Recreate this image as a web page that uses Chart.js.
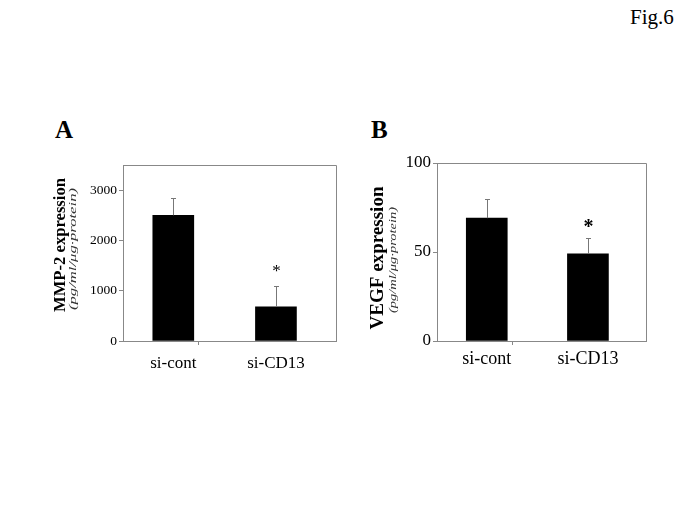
<!DOCTYPE html>
<html><head><meta charset="utf-8">
<script src="https://cdn.jsdelivr.net/npm/chart.js@4/dist/chart.umd.min.js"></script>
<style>
html,body{margin:0;padding:0;background:#fff;}
body{width:685px;height:513px;position:relative;overflow:hidden;font-family:"Liberation Serif","Times New Roman",serif;color:#000;}
.wrap{position:absolute;width:310px;height:270px;}
.lbl{position:absolute;font-weight:bold;font-size:25px;line-height:25px;}
</style></head><body>
<div style="position:absolute;left:630px;top:7px;font-size:21px;line-height:21px;">Fig.6</div>
<div class="lbl" style="left:55px;top:117px">A</div>
<div class="lbl" style="left:371px;top:117px">B</div>
<div class="wrap" style="left:40px;top:110px"><canvas id="cA"></canvas></div>
<div class="wrap" style="left:360px;top:110px"><canvas id="cB"></canvas></div>
<script>
const categories = ['si-cont', 'si-CD13'];
const mmp2Values = [2500, 680];
const mmp2Errors = [340, 420];
const mmp2Ticks = [0, 1000, 2000, 3000];
const mmp2Marks = ['', '*'];
const vegfValues = [69, 49];
const vegfErrors = [11, 9];
const vegfTicks = [0, 50, 100];
const vegfMarks = ['', '*'];

const SERIF = '"Liberation Serif","Times New Roman",serif';
const AXIS = '#888';

const extras = {
  id: 'extras',
  afterDatasetsDraw(chart, args, o) {
    const {ctx, chartArea: a, scales: {x, y}} = chart;
    ctx.save();
    ctx.strokeStyle = AXIS; ctx.lineWidth = 1;
    ctx.beginPath();
    ctx.moveTo(a.left, Math.round(a.top) + 0.5);
    ctx.lineTo(Math.round(a.right) + 0.5, Math.round(a.top) + 0.5);
    ctx.lineTo(Math.round(a.right) + 0.5, a.bottom);
    ctx.stroke();
    o.values.forEach((v, i) => {
      const px = Math.round(x.getPixelForValue(i)) + 0.5;
      const y0 = y.getPixelForValue(v);
      const y1 = Math.round(y.getPixelForValue(v + o.errors[i])) + 0.5;
      ctx.strokeStyle = '#777';
      ctx.beginPath();
      ctx.moveTo(px, y0); ctx.lineTo(px, y1);
      ctx.moveTo(px - 2.5, y1); ctx.lineTo(px + 2.5, y1);
      ctx.stroke();
      if (o.marks[i]) {
        ctx.fillStyle = '#000';
        ctx.font = o.markFont;
        ctx.textAlign = 'center';
        ctx.textBaseline = 'alphabetic';
        ctx.fillText(o.marks[i], px, y1 - o.markGap);
      }
    });
    o.titles.forEach(t => {
      ctx.save();
      ctx.translate(t.cx, t.cy);
      ctx.rotate(-Math.PI / 2);
      ctx.font = t.font;
      ctx.fillStyle = t.color || '#000';
      ctx.textAlign = 'center';
      ctx.textBaseline = 'middle';
      const w = ctx.measureText(t.text).width;
      ctx.scale(t.len / w, 1);
      ctx.fillText(t.text, 0, 0);
      ctx.restore();
    });
    ctx.restore();
  }
};

function makeChart(id, values, errors, ticks, marks, o) {
  const xTicks = [];
  categories.forEach((c, i) => { xTicks.push(i); if (i < categories.length - 1) xTicks.push(i + 0.5); });
  return new Chart(document.getElementById(id), {
    type: 'bar',
    data: {
      datasets: [{
        data: values.map((v, i) => ({x: i, y: v})),
        backgroundColor: '#000',
        borderWidth: 0,
        barThickness: 41
      }]
    },
    options: {
      responsive: true,
      maintainAspectRatio: false,
      animation: false,
      layout: {padding: {top: o.padTop, right: o.padRight, left: 0, bottom: 0}},
      plugins: {
        legend: {display: false},
        tooltip: {enabled: false},
        extras: {values, errors, marks, markFont: o.markFont, markGap: o.markGap, titles: o.titles}
      },
      scales: {
        x: {
          type: 'linear',
          min: o.xMin, max: o.xMax,
          offset: false,
          afterBuildTicks: s => { s.ticks = xTicks.map(v => ({value: v})); },
          afterFit: s => { s.height = o.xAxisH; },
          ticks: {
            autoSkip: false, maxRotation: 0,
            padding: o.xPad,
            color: '#000',
            font: {family: SERIF, size: o.xFont},
            callback: v => Number.isInteger(v) ? categories[v] : ''
          },
          grid: {
            display: true, drawOnChartArea: false, tickLength: 4,
            color: c => (c.tick && !Number.isInteger(c.tick.value)) ? AXIS : 'rgba(0,0,0,0)'
          },
          border: {display: true, color: AXIS}
        },
        y: {
          min: 0, max: o.yMax,
          afterBuildTicks: s => { s.ticks = ticks.map(v => ({value: v})); },
          afterFit: s => { s.width = o.yAxisW; },
          ticks: {
            padding: 2, color: '#000',
            font: {family: SERIF, size: o.yFont},
            callback: v => String(v)
          },
          grid: {display: true, drawOnChartArea: false, tickLength: 4, color: AXIS},
          border: {display: true, color: AXIS}
        }
      }
    },
    plugins: [extras]
  });
}

makeChart('cA', mmp2Values, mmp2Errors, mmp2Ticks, mmp2Marks, {
  padTop: 55, padRight: 14, yAxisW: 83, xAxisH: 39,
  xMin: -0.49, xMax: 1.585, yMax: 3500,
  xFont: 17, xPad: 8, yFont: 13.5,
  markFont: '17px ' + SERIF, markGap: 11,
  titles: [
    {text: 'MMP-2 expression', font: 'bold 17px ' + SERIF, cx: 21, cy: 135, len: 134},
    {text: '(pg/ml/μg·protein)', font: 'italic 11px ' + SERIF, cx: 33, cy: 139, len: 122, color: '#333'}
  ]
});
makeChart('cB', vegfValues, vegfErrors, vegfTicks, vegfMarks, {
  padTop: 53, padRight: 24, yAxisW: 77, xAxisH: 39,
  xMin: -0.492, xMax: 1.574, yMax: 100,
  xFont: 18, xPad: 3, yFont: 17,
  markFont: 'bold 20px ' + SERIF, markGap: 6,
  titles: [
    {text: 'VEGF expression', font: 'bold 19px ' + SERIF, cx: 18, cy: 148, len: 143},
    {text: '(pg/ml/μg·protein)', font: 'italic 11px ' + SERIF, cx: 33, cy: 150, len: 106, color: '#333'}
  ]
});
</script>
</body></html>
